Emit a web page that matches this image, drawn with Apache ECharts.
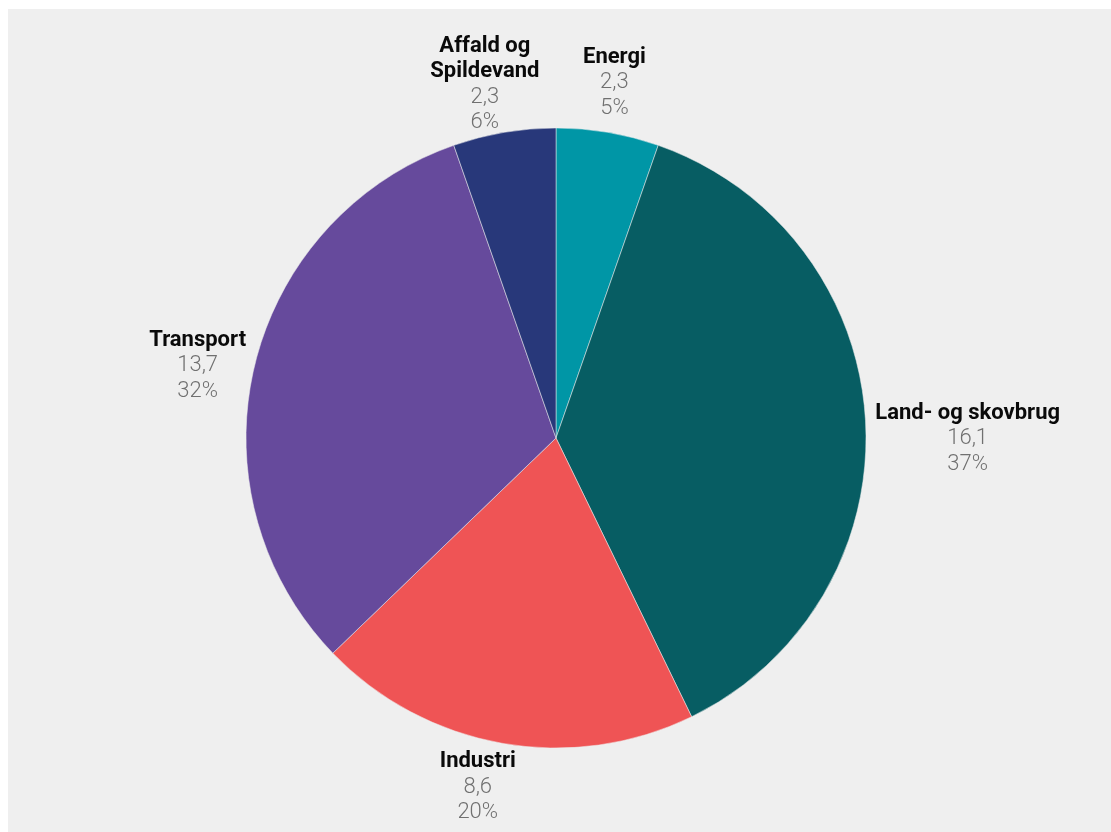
<!DOCTYPE html>
<html>
<head>
<meta charset="utf-8">
<script src="https://cdn.jsdelivr.net/npm/echarts@6/dist/echarts.min.js"></script>
<style>
  html, body { margin: 0; padding: 0; background: #ffffff; }
  #chart { position: absolute; left: 8px; top: 9px; width: 1103px; height: 823px; }
</style>
</head>
<body>
<div id="chart"></div>
<script>
// Udledning fordelt på sektorer
const categories = ['Energi', 'Land- og skovbrug', 'Industri', 'Transport', 'Affald og\nSpildevand'];
const values = [2.3, 16.1, 8.6, 13.7, 2.3];
const percentLabels = ['5%', '37%', '20%', '32%', '6%'];
const colors = ['#0096a6', '#075d63', '#ef5455', '#664a9c', '#28387a'];

// pie geometry (chart pixels) and label placement settings
const CX = 548, CY = 429, RADIUS = 310, GAP = 10;
// small hand adjustments of each label block [dx, dy]
const labelNudge = [[-2, 1], [-2, 25], [-15, -8], [7, 15], [-8, 19]];
const total = values.reduce((a, b) => a + b, 0);

function fmtNumber(v) {
  return v.toFixed(1).replace('.', ',');
}

const chart = echarts.init(document.getElementById('chart'), null, { renderer: 'canvas' });

chart.setOption({
  backgroundColor: '#efefef',
  animation: false,
  series: [{
    type: 'pie',
    center: [CX, CY],
    radius: [0, RADIUS],
    startAngle: 90,
    clockwise: true,
    data: categories.map((name, i) => ({
      name: name,
      value: values[i],
      itemStyle: { color: colors[i] }
    })),
    itemStyle: { borderColor: '#efefef', borderWidth: 0.5 },
    emphasis: { disabled: true },
    label: {
      show: true,
      position: 'outside',
      formatter: function (p) {
        const nameLines = p.name.split('\n').map(s => '{n|' + s + '}').join('\n');
        return nameLines + '\n{v|' + fmtNumber(values[p.dataIndex]) + '}\n{p|' + percentLabels[p.dataIndex] + '}';
      },
      rich: {
        n: { fontFamily: 'Roboto', fontWeight: 'bold', fontSize: 22, color: '#0a0a0a', lineHeight: 25.5, align: 'center' },
        v: { fontFamily: 'Roboto', fontWeight: 300, fontSize: 22, color: '#707070', lineHeight: 25.5, align: 'center' },
        p: { fontFamily: 'Roboto', fontWeight: 300, fontSize: 22, color: '#707070', lineHeight: 25.5, align: 'center' }
      }
    },
    labelLine: { show: false, length: 10, length2: 0 },
    // place each label block radially just outside its slice
    labelLayout: function (p) {
      const i = p.dataIndex;
      const before = values.slice(0, i).reduce((a, b) => a + b, 0);
      const mid = (before + values[i] / 2) / total * Math.PI * 2;
      const dx = Math.sin(mid), dy = -Math.cos(mid);
      const w = p.labelRect.width, h = p.labelRect.height;
      const d = RADIUS + GAP + Math.abs(dx) * w / 2 + Math.abs(dy) * h / 2;
      return {
        x: CX + dx * d + labelNudge[i][0],
        y: CY + dy * d + labelNudge[i][1],
        align: 'center',
        verticalAlign: 'middle'
      };
    }
  }]
});
</script>
</body>
</html>
